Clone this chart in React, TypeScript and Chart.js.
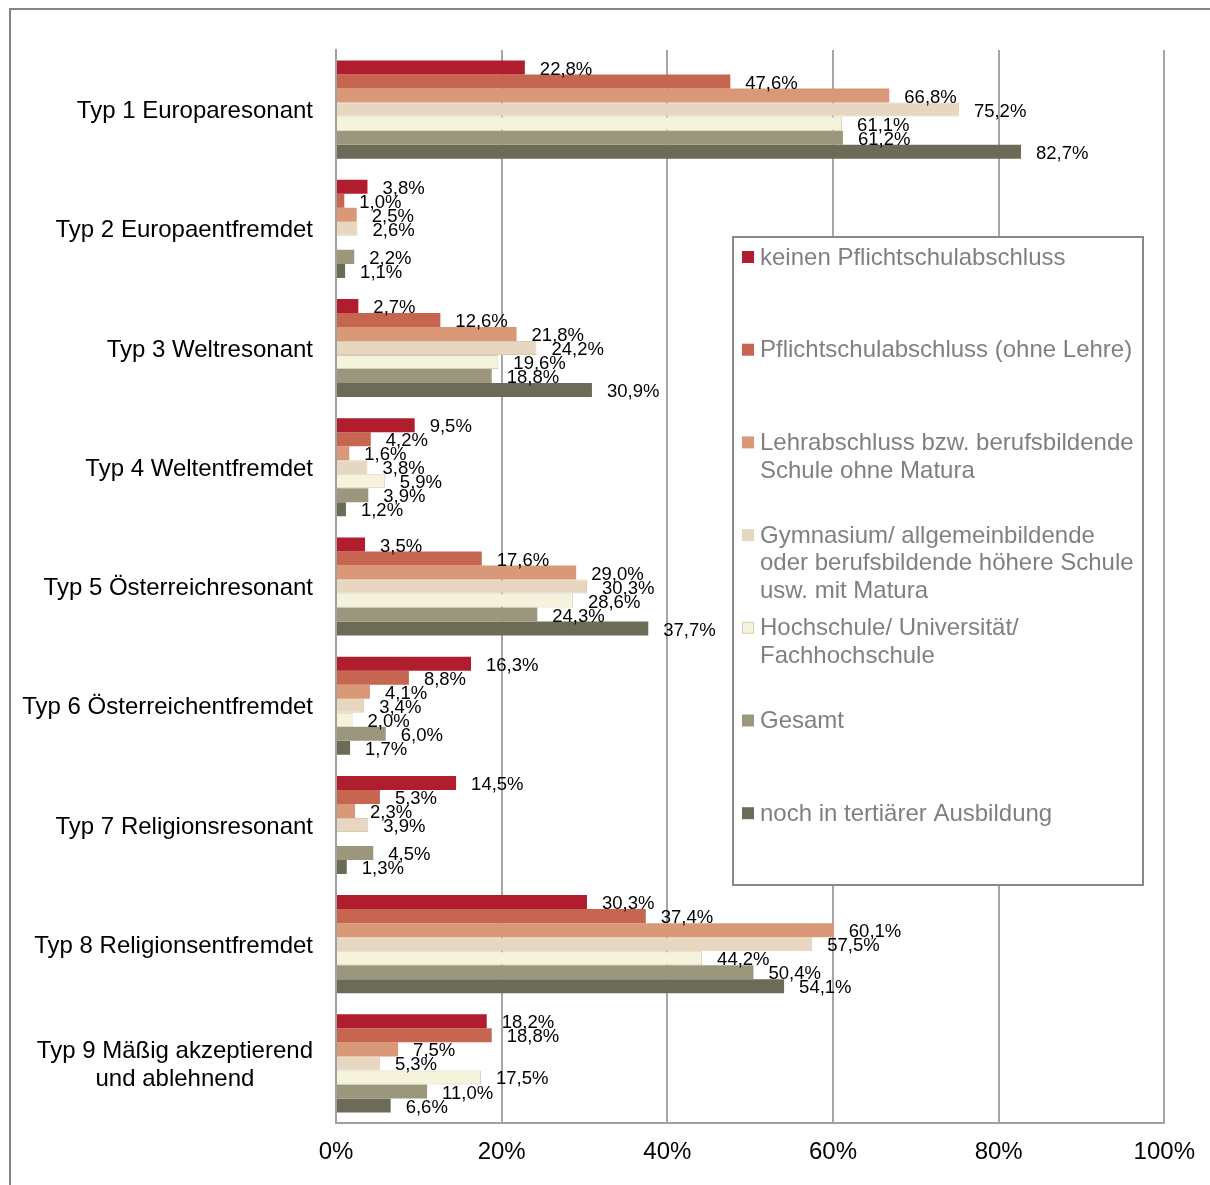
import React, { useEffect, useRef } from "react";
import { Chart, registerables } from "chart.js";

Chart.register(...registerables);

const categories: string[][] = [
  ["Typ 1 Europaresonant"],
  ["Typ 2 Europaentfremdet"],
  ["Typ 3 Weltresonant"],
  ["Typ 4 Weltentfremdet"],
  ["Typ 5 Österreichresonant"],
  ["Typ 6 Österreichentfremdet"],
  ["Typ 7 Religionsresonant"],
  ["Typ 8 Religionsentfremdet"],
  ["Typ 9 Mäßig akzeptierend", "und ablehnend"],
];

const seriesNames: string[][] = [
  ["keinen Pflichtschulabschluss"],
  ["Pflichtschulabschluss (ohne Lehre)"],
  ["Lehrabschluss bzw. berufsbildende", "Schule ohne Matura"],
  ["Gymnasium/ allgemeinbildende", "oder berufsbildende höhere Schule", "usw. mit Matura"],
  ["Hochschule/ Universität/", "Fachhochschule"],
  ["Gesamt"],
  ["noch in tertiärer Ausbildung"],
];

const seriesColors = ["#B01E2E", "#C76650", "#D99877", "#E7D7C1", "#F6F3DD", "#9B977C", "#6C6B58"];
const seriesBorders = ["#B01E2E", "#C76650", "#D99877", "#DCCBB3", "#D4D1B5", "#9B977C", "#6C6B58"];

const keinenPflicht = [22.8, 3.8, 2.7, 9.5, 3.5, 16.3, 14.5, 30.3, 18.2];
const pflichtOhneLehre = [47.6, 1.0, 12.6, 4.2, 17.6, 8.8, 5.3, 37.4, 18.8];
const lehrabschluss = [66.8, 2.5, 21.8, 1.6, 29.0, 4.1, 2.3, 60.1, 7.5];
const gymnasium = [75.2, 2.6, 24.2, 3.8, 30.3, 3.4, 3.9, 57.5, 5.3];
const hochschule: (number | null)[] = [61.1, null, 19.6, 5.9, 28.6, 2.0, null, 44.2, 17.5];
const gesamt = [61.2, 2.2, 18.8, 3.9, 24.3, 6.0, 4.5, 50.4, 11.0];
const tertiaer = [82.7, 1.1, 30.9, 1.2, 37.7, 1.7, 1.3, 54.1, 6.6];

const seriesValues = [keinenPflicht, pflichtOhneLehre, lehrabschluss, gymnasium, hochschule, gesamt, tertiaer];

const xTicks = [0, 20, 40, 60, 80, 100];

const FONT = "'Liberation Sans', Arial, Helvetica, sans-serif";

const decorPlugin = {
  id: "decor",
  beforeDraw(chart: any) {
    const ctx = chart.ctx;
    ctx.save();
    ctx.fillStyle = "#ffffff";
    ctx.fillRect(0, 0, chart.width, chart.height);
    ctx.strokeStyle = "#858585";
    ctx.lineWidth = 2;
    ctx.beginPath();
    ctx.moveTo(10, chart.height + 2);
    ctx.lineTo(10, 9);
    ctx.lineTo(chart.width + 2, 9);
    ctx.stroke();
    ctx.restore();
  },
  afterDatasetsDraw(chart: any) {
    const ctx = chart.ctx;
    ctx.save();
    ctx.font = `18.5px ${FONT}`;
    ctx.fillStyle = "#000000";
    ctx.textAlign = "left";
    ctx.textBaseline = "middle";
    chart.data.datasets.forEach((ds: any, di: number) => {
      const meta = chart.getDatasetMeta(di);
      meta.data.forEach((el: any, i: number) => {
        const v = ds.data[i];
        if (v === null || v === undefined) return;
        const txt = v.toFixed(1).replace(".", ",") + "%";
        ctx.fillText(txt, el.x + 15, el.y + 2);
      });
    });
    ctx.restore();
  },
  afterDraw(chart: any) {
    const ctx = chart.ctx;
    const yScale = chart.scales.y;
    ctx.save();
    // category labels
    ctx.font = `24px ${FONT}`;
    ctx.fillStyle = "#000000";
    ctx.textBaseline = "middle";
    categories.forEach((lines, i) => {
      const y = yScale.getPixelForValue(i) + 2;
      const right = 313;
      if (lines.length === 1) {
        ctx.textAlign = "right";
        ctx.fillText(lines[0], right, y);
      } else {
        const w = ctx.measureText(lines[0]).width;
        const cx = right - w / 2;
        const lh = 28;
        const y0 = y - ((lines.length - 1) * lh) / 2;
        ctx.textAlign = "center";
        lines.forEach((ln, k) => ctx.fillText(ln, cx, y0 + k * lh));
      }
    });
    // legend box
    const bx = 733, by = 237, bw = 410, bh = 648;
    ctx.fillStyle = "#ffffff";
    ctx.fillRect(bx, by, bw, bh);
    ctx.strokeStyle = "#888888";
    ctx.lineWidth = 2;
    ctx.strokeRect(bx, by, bw, bh);
    ctx.font = `24px ${FONT}`;
    ctx.textAlign = "left";
    ctx.textBaseline = "middle";
    const step = 92.7;
    seriesNames.forEach((lines, i) => {
      const y = 257 + i * step;
      ctx.fillStyle = seriesColors[i];
      ctx.fillRect(742, y - 6, 12, 12);
      if (i === 4) {
        ctx.strokeStyle = "#D4D1B5";
        ctx.lineWidth = 1;
        ctx.strokeRect(742.5, y - 5.5, 11, 11);
      }
      ctx.fillStyle = "#808080";
      lines.forEach((ln, k) => ctx.fillText(ln, 760, y + 1 + k * 27.5));
    });
    ctx.restore();
  },
};

export default function App() {
  const ref = useRef<HTMLCanvasElement | null>(null);
  useEffect(() => {
    if (!ref.current) return;
    const chart = new Chart(ref.current, {
      type: "bar",
      data: {
        labels: categories.map((c) => c.join(" ")),
        datasets: seriesValues.map((vals, i) => ({
          label: seriesNames[i].join(" "),
          data: vals,
          backgroundColor: seriesColors[i],
          borderColor: seriesBorders[i],
          borderWidth: i === 3 || i === 4 ? 1 : 0,
          categoryPercentage: 0.823,
          barPercentage: 1,
        })),
      },
      plugins: [decorPlugin],
      options: {
        indexAxis: "y",
        animation: false,
        responsive: false,
        devicePixelRatio: 1,
        layout: { padding: { left: 336, right: 44, top: 50, bottom: 0 } },
        plugins: {
          legend: { display: false },
          tooltip: { enabled: false },
        },
        scales: {
          y: {
            type: "category",
            ticks: { display: false },
            grid: { display: false },
            border: { display: true, color: "#A0A0A0", width: 2 },
            afterFit: (s: any) => {
              s.width = 0;
            },
          },
          x: {
            type: "linear",
            min: 0,
            max: 100,
            afterBuildTicks: (s: any) => {
              s.ticks = xTicks.map((v) => ({ value: v }));
            },
            ticks: {
              padding: 15,
              color: "#000000",
              font: { family: FONT, size: 24 },
              callback: (v: any) => v + "%",
            },
            grid: { color: "#A6A6A6", lineWidth: 2, drawTicks: false },
            border: { display: true, color: "#A0A0A0", width: 2 },
            afterFit: (s: any) => {
              s.height = 62;
            },
          },
        },
      },
    });
    return () => chart.destroy();
  }, []);
  return (
    <div style={{ position: "absolute", left: 0, top: 0, width: 1210, height: 1185 }}>
      <canvas ref={ref} width={1210} height={1185} style={{ width: 1210, height: 1185, display: "block" }} />
    </div>
  );
}
